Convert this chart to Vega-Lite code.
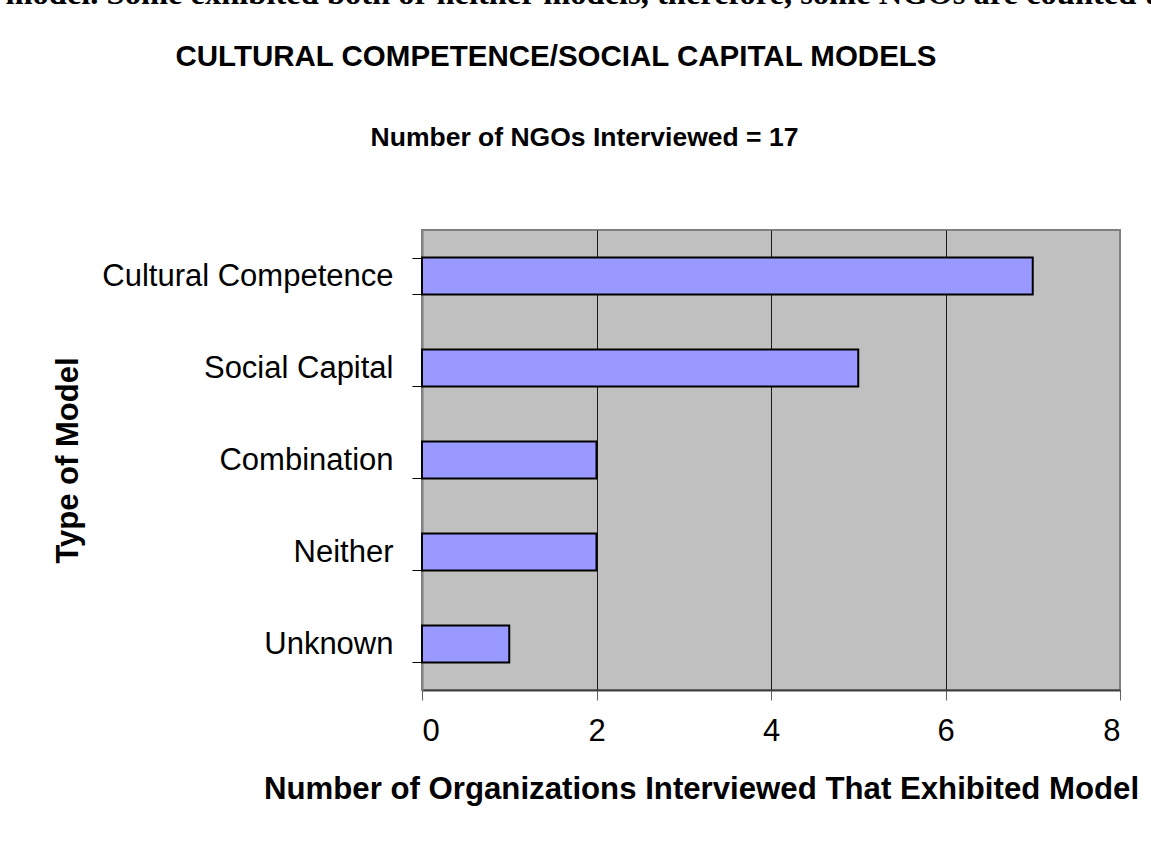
{
  "$schema": "https://vega.github.io/schema/vega-lite/v6.json",
  "width": 698,
  "height": 460,
  "autosize": {"type": "none"},
  "padding": {"left": 422, "top": 230, "right": 31, "bottom": 154},
  "background": "#FFFFFF",
  "config": {
    "font": "Liberation Sans",
    "view": {"fill": "#C0C0C0", "stroke": "#808080", "strokeWidth": 2}
  },
  "title": {
    "text": "CULTURAL COMPETENCE/SOCIAL CAPITAL MODELS",
    "anchor": "middle",
    "frame": "group",
    "dx": -215,
    "offset": -95,
    "font": "Liberation Sans",
    "fontSize": 29.5,
    "fontWeight": "bold",
    "color": "#000000"
  },
  "data": {
    "values": [
      {"model": "Cultural Competence", "count": 7},
      {"model": "Social Capital", "count": 5},
      {"model": "Combination", "count": 2},
      {"model": "Neither", "count": 2},
      {"model": "Unknown", "count": 1}
    ]
  },
  "layer": [
    {
      "mark": {"type": "bar", "fill": "#9999FF", "stroke": "#000000", "strokeWidth": 2},
      "encoding": {
        "y": {
          "field": "model",
          "type": "nominal",
          "sort": null,
          "scale": {"paddingInner": 0.6, "paddingOuter": 0.3},
          "axis": {
            "title": "Type of Model",
            "titleFont": "Liberation Sans",
            "titleFontSize": 31,
            "titleFontWeight": "bold",
            "titleColor": "#000000",
            "titleAngle": 270,
            "titleAlign": "center",
            "titleBaseline": "alphabetic",
            "titleX": -345,
            "titleY": 230,
            "labelFont": "Liberation Sans",
            "labelFontSize": 31,
            "labelColor": "#000000",
            "labelPadding": 19,
            "labelLimit": 400,
            "tickBand": "extent",
            "tickSize": 10,
            "tickColor": "#000000",
            "tickWidth": 1,
            "domainColor": "#808080",
            "domainWidth": 2,
            "grid": false
          }
        },
        "x": {
          "field": "count",
          "type": "quantitative",
          "scale": {"domain": [0, 8], "nice": false},
          "axis": {
            "values": [0, 2, 4, 6, 8],
            "title": "Number of Organizations Interviewed That Exhibited Model",
            "titleFont": "Liberation Sans",
            "titleFontSize": 31.2,
            "titleFontWeight": "bold",
            "titleColor": "#000000",
            "titleAlign": "center",
            "titleBaseline": "alphabetic",
            "titleX": 279,
            "titleY": 108,
            "labelFont": "Liberation Sans",
            "labelFontSize": 31,
            "labelColor": "#000000",
            "labelBaseline": "alphabetic",
            "labelPadding": 40,
            "tickSize": 10,
            "tickColor": "#606060",
            "tickWidth": 1,
            "domainColor": "#404040",
            "domainWidth": 2,
            "grid": true,
            "gridColor": {
              "condition": {"test": "datum.value === 0 || datum.value === 8", "value": "#808080"},
              "value": "#1A1A1A"
            },
            "gridWidth": 1,
            "gridOpacity": 1
          }
        }
      }
    },
    {
      "mark": {"type": "bar", "opacity": 0},
      "encoding": {
        "y": {
          "field": "model",
          "type": "nominal",
          "sort": null,
          "axis": {
            "orient": "right",
            "title": "Number of NGOs Interviewed = 17",
            "titleFont": "Liberation Sans",
            "titleFontSize": 26.5,
            "titleFontWeight": "bold",
            "titleColor": "#000000",
            "titleAngle": 0,
            "titleAlign": "center",
            "titleBaseline": "alphabetic",
            "titleX": -536,
            "titleY": -85,
            "labels": false,
            "ticks": false,
            "domain": false,
            "grid": false
          }
        },
        "x": {
          "field": "count",
          "type": "quantitative",
          "axis": {
            "orient": "top",
            "title": "model. Some exhibited both or neither models, therefore, some NGOs are counted twice.",
            "titleFont": "Liberation Serif",
            "titleFontSize": 32.5,
            "titleFontWeight": "bold",
            "titleColor": "#000000",
            "titleAlign": "left",
            "titleBaseline": "alphabetic",
            "titleX": -417,
            "titleY": -227,
            "titleLimit": 2000,
            "labels": false,
            "ticks": false,
            "domain": false,
            "grid": false
          }
        }
      }
    }
  ],
  "resolve": {"axis": {"x": "independent", "y": "independent"}}
}
